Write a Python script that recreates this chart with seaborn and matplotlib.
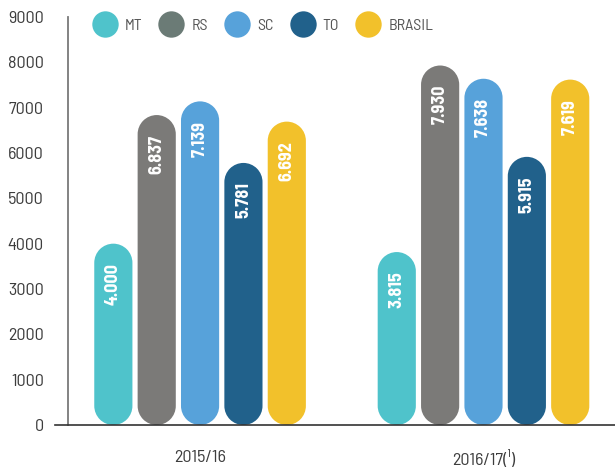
import matplotlib
matplotlib.use("Agg")
import matplotlib.pyplot as plt
from matplotlib.patches import PathPatch
from matplotlib.path import Path
from matplotlib.lines import Line2D
import seaborn as sns
import pandas as pd
import numpy as np

# dados
safras = ['2015/16', '2016/17(¹)']
estados = ['MT', 'RS', 'SC', 'TO', 'BRASIL']
valores_2015 = [4000, 6837, 7139, 5781, 6692]
valores_2016 = [3815, 7930, 7638, 5915, 7619]
cores = ['#4FC3CB', '#7B7A78', '#57A2DA', '#21618B', '#F2C12B']
cores_legenda = ['#4FC3CB', '#6B7B76', '#57A2DA', '#21618B', '#F2C12B']
yticks = list(range(0, 9001, 1000))

df = pd.DataFrame({
    'Safra': [safras[0]] * len(estados) + [safras[1]] * len(estados),
    'Estado': estados * 2,
    'Valor': valores_2015 + valores_2016,
})

sns.set_style("white")
plt.rcParams['font.family'] = ['Barlow Semi Condensed', 'DejaVu Sans']

fig = plt.figure(figsize=(6.15, 4.68), dpi=100)
ax = fig.add_axes([68 / 615, 1 - 425 / 468, 1 - 68 / 615, 408 / 468])

sns.barplot(data=df, x='Safra', y='Valor', hue='Estado', hue_order=estados,
            palette=cores, width=0.765, gap=0.12, saturation=1,
            legend=False, ax=ax)
ax.set_xlim(-0.466, 1.464)
ax.set_ylim(0, 9000)

# barras em formato de pílula (pontas arredondadas)
fig.canvas.draw()
x_per_px = (ax.get_xlim()[1] - ax.get_xlim()[0]) / ax.bbox.width
y_per_px = (ax.get_ylim()[1] - ax.get_ylim()[0]) / ax.bbox.height
aspect = y_per_px / x_per_px


def pilula(x0, w, h):
    r = w / 2
    ry = r * aspect
    cx = x0 + r
    bot = Path.arc(180, 360)
    top = Path.arc(0, 180)
    v = np.concatenate([bot.vertices * [r, ry] + [cx, ry],
                        top.vertices * [r, ry] + [cx, h - ry],
                        [[0, 0]]])
    c = np.concatenate([bot.codes, top.codes, [Path.CLOSEPOLY]])
    c[len(bot.codes)] = Path.LINETO
    v[-1] = v[0]
    return Path(v, c)


barras = list(ax.patches)
for p in barras:
    x0, w, h = p.get_x(), p.get_width(), p.get_height()
    cor = p.get_facecolor()
    p.remove()
    ax.add_patch(PathPatch(pilula(x0, w, h), fc=cor, ec='none', zorder=2))
    rotulo = f"{int(round(h)):,}".replace(',', '.')
    ax.annotate(rotulo, xy=(x0 + w / 2, h), xytext=(0, -14),
                textcoords='offset points', rotation=90, ha='center',
                va='top', color='white', fontweight='bold', fontsize=13,
                zorder=3)

# eixos
ax.set_xlabel('')
ax.set_ylabel('')
ax.set_yticks(yticks)
ax.set_yticklabels([str(t) for t in yticks])
for s in ['top', 'right']:
    ax.spines[s].set_visible(False)
ax.spines['left'].set_color('#7a7a7a')
ax.spines['left'].set_linewidth(1.3)
ax.spines['bottom'].set_color('#333333')
ax.spines['bottom'].set_linewidth(1.2)
ax.spines['bottom'].set_bounds(-0.466 - 13 * x_per_px, 1.464)
ax.tick_params(axis='y', direction='out', length=9.4, width=1.2,
               color='#7a7a7a', pad=8, labelsize=13, labelcolor='#3d3d3d')
ax.tick_params(axis='x', length=0, pad=18, labelsize=13,
               labelcolor='#3d3d3d')

# legenda
handles = [Line2D([], [], marker='o', ls='', markersize=19, mfc=c, mec='none')
           for c in cores_legenda]
fig.legend(handles, estados, loc='center left',
           bbox_to_anchor=(91 / 615, 1 - 26 / 468), ncol=5, frameon=False,
           labelcolor='#555555', handlelength=1.7,
           handletextpad=0.4, columnspacing=0.98, borderpad=0,
           borderaxespad=0, prop={'size': 11.5})

fig.savefig('out.png', dpi=100)
